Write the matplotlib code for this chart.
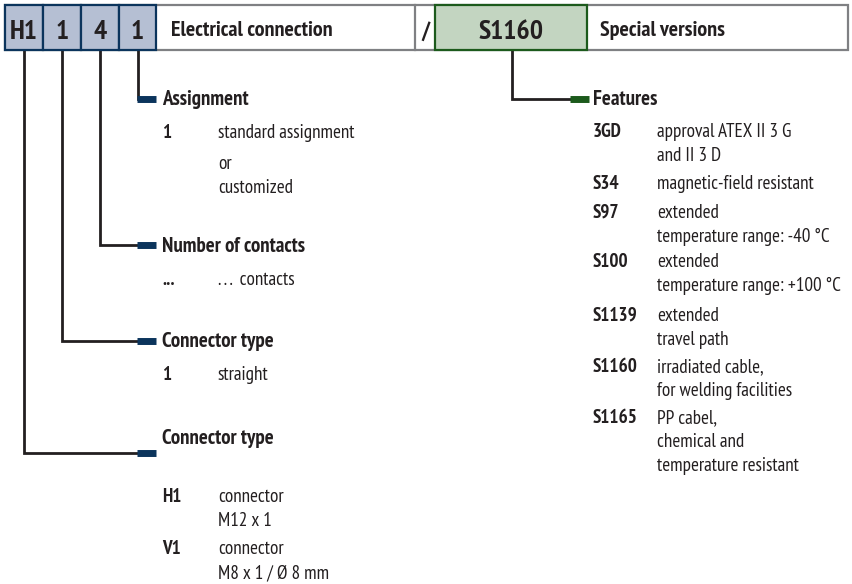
import matplotlib.pyplot as plt
from matplotlib.patches import Rectangle

plt.rcParams['font.family'] = ['PT Sans Narrow', 'DejaVu Sans']

# header code
code_digits = ["H1", "1", "4", "1"]
code_edges = [5, 43, 81, 119, 156]
header_left = "Electrical connection"
header_sep = "/"
special_code = "S1160"
header_right = "Special versions"

# left branches (one per digit of the code, right to left)
left_titles = ["Assignment", "Number of contacts", "Connector type", "Connector type"]
left_branch_x = [138, 100, 62, 24]
left_bar_y = [99, 245, 341, 453]
left_title_y = [105, 252, 347, 444]
left_codes = [["1", ""], ["..."], ["1"], ["H1", "V1"]]
left_texts = [[["standard assignment"], ["or", "customized"]],
              [[". . .  contacts"]],
              [["straight"]],
              [["connector", "M12 x 1"], ["connector", "M8 x 1 / \u00d8 8 mm"]]]
left_item_y = [[138, 169], [285], [380], [502, 554]]

# right branch
right_title = "Features"
feature_codes = ["3GD", "S34", "S97", "S100", "S1139", "S1160", "S1165"]
feature_texts = [["approval ATEX II 3 G", "and II 3 D"],
                 ["magnetic-field resistant"],
                 ["extended", "temperature range: -40 \u00b0C"],
                 ["extended", "temperature range: +100 \u00b0C"],
                 ["extended", "travel path"],
                 ["irradiated cable,", "for welding facilities"],
                 ["PP cabel,", "chemical and", "temperature resistant"]]
feature_y = [137, 189, 218, 267, 321, 372, 423]

TXT = "#231f20"
BLUE = "#0b345c"
GREEN = "#1c5a1c"
step = 24
body = 13.8
title = 15
head = 15.8

fig = plt.figure(figsize=(8.52, 5.84), dpi=100)
ax = fig.add_axes([0, 0, 1, 1])
ax.set_xlim(0, 852)
ax.set_ylim(584, 0)
ax.axis("off")

# header frame
ax.add_patch(Rectangle((5, 5), 843, 45, fill=False, ec="#7f8083", lw=1.6))
ax.plot([415, 415], [5, 50], color="#7f8083", lw=1.6)
for i, d in enumerate(code_digits):
    x0, x1 = code_edges[i], code_edges[i + 1]
    ax.add_patch(Rectangle((x0, 5), x1 - x0, 45, fc="#b5bfd3", ec=BLUE, lw=1.6, zorder=3))
    ax.text((x0 + x1) / 2, 39, d, ha="center", va="baseline", fontsize=20,
            fontweight="bold", color=TXT, zorder=4)
ax.text(171, 36, header_left, ha="left", va="baseline", fontsize=head, fontweight="bold", color=TXT)
ax.text(426, 38, header_sep, ha="center", va="baseline", fontsize=17, fontweight="bold", color=TXT)
ax.add_patch(Rectangle((435, 5), 152, 45, fc="#c3d5c1", ec=GREEN, lw=1.6, zorder=3))
ax.text(511, 39, special_code, ha="center", va="baseline", fontsize=20,
        fontweight="bold", color=TXT, zorder=4)
ax.text(600, 36, header_right, ha="left", va="baseline", fontsize=head, fontweight="bold", color=TXT)

# left tree
for k in range(len(left_titles)):
    bx, by = left_branch_x[k], left_bar_y[k]
    ax.plot([bx, bx, 140], [50, by, by], color=TXT, lw=2, solid_joinstyle="miter")
    ax.plot([137, 156], [by, by], color=BLUE, lw=5, solid_capstyle="butt")
    ax.text(162, left_title_y[k], left_titles[k], ha="left", va="baseline",
            fontsize=title, fontweight="bold", color=TXT)
    for code, lines, y in zip(left_codes[k], left_texts[k], left_item_y[k]):
        ax.text(162, y, code, ha="left", va="baseline", fontsize=body,
                fontweight="bold", color=TXT)
        for j, line in enumerate(lines):
            ax.text(218, y + j * step, line, ha="left", va="baseline",
                    fontsize=body, color=TXT)

# right tree
ax.plot([512, 512, 572], [50, 99, 99], color=TXT, lw=2, solid_joinstyle="miter")
ax.plot([570, 589], [99, 99], color=GREEN, lw=5, solid_capstyle="butt")
ax.text(593, 105, right_title, ha="left", va="baseline", fontsize=title,
        fontweight="bold", color=TXT)
for code, lines, y in zip(feature_codes, feature_texts, feature_y):
    ax.text(593, y, code, ha="left", va="baseline", fontsize=body,
            fontweight="bold", color=TXT)
    for j, line in enumerate(lines):
        ax.text(657, y + j * step, line, ha="left", va="baseline",
                fontsize=body, color=TXT)

fig.savefig("out.png", dpi=100)
